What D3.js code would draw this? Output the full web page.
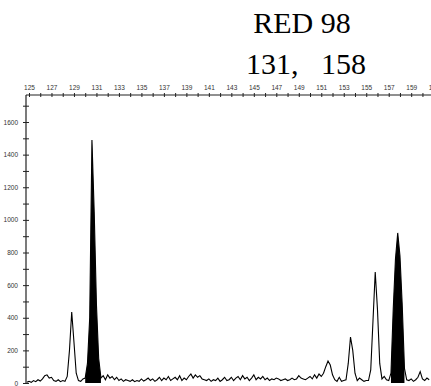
<!DOCTYPE html>
<html>
<head>
<meta charset="utf-8">
<script src="https://cdn.jsdelivr.net/npm/d3@7"></script>
<style>
  html, body { margin: 0; padding: 0; background: #fff; }
  svg { display: block; }
</style>
</head>
<body>
<div id="chart"></div>
<script>
// title lines
const titleLines = ['RED 98', '131,   158'];
const titleX = [302, 306];

// fragment sizes (bp) are sampled every 0.2 from 124.8
const sizeStart = 124.8;
const sizeStep = 0.2;

// signal (RFU), one row = 2 bp
const rfu = [
  5, 10, 4, 15, 8, 20, 12, 25, 45, 50,
  30, 35, 15, 10, 20, 8, 15, 10, 40, 200,
  435, 250, 60, 15, 10, 25, 30, 120, 400, 1490,
  1050, 480, 150, 30, 45, 20, 50, 30, 40, 20,
  35, 15, 25, 10, 20, 15, 10, 20, 8, 15,
  10, 25, 12, 20, 30, 15, 25, 10, 20, 35,
  15, 30, 20, 40, 15, 25, 35, 20, 45, 15,
  30, 20, 40, 55, 30, 50, 35, 45, 25, 20,
  15, 25, 10, 20, 15, 30, 10, 20, 35, 15,
  20, 35, 15, 30, 40, 20, 45, 25, 35, 15,
  30, 50, 20, 35, 25, 40, 20, 30, 15, 25,
  20, 30, 25, 15, 20, 25, 15, 20, 30, 20,
  25, 45, 30, 25, 20, 30, 40, 25, 50, 30,
  55, 40, 60, 100, 135, 110, 50, 20, 10, 35,
  10, 15, 20, 120, 282, 200, 60, 15, 30, 20,
  10, 15, 15, 80, 380, 681, 450, 120, 25, 40,
  20, 15, 60, 450, 760, 920, 780, 480, 90, 20,
  15, 25, 10, 20, 35, 70, 25, 15, 30, 20
];

// called allele peaks (filled black)
const alleleFrom = [129.9, 157.1];
const alleleTo = [131.5, 158.5];

// axis ticks
const xTicks = d3.range(125, 162, 1);
const yTicks = d3.range(0, 1800, 100);
const yLabels = [0, 200, 400, 600, 800, 1000, 1200, 1400, 1600];

const W = 431, H = 386;
const svg = d3.select('#chart').append('svg').attr('width', W).attr('height', H);

const x = d3.scaleLinear().domain([125, 159]).range([29, 411.2]);
const y = d3.scaleLinear().domain([0, 1600]).range([383, 122]);
const axisLeftX = 26, axisTopY = 95;

const data = rfu.map((v, i) => ({ size: sizeStart + i * sizeStep, v }));

// title
svg.selectAll('.title')
  .data(titleLines)
  .enter()
  .append('text')
  .attr('class', 'title')
  .attr('x', (d, i) => titleX[i])
  .attr('y', (d, i) => 33 + i * 41)
  .attr('text-anchor', 'middle')
  .style('font-family', '"Liberation Serif", "Times New Roman", serif')
  .style('font-size', '30px')
  .style('white-space', 'pre')
  .attr('xml:space', 'preserve')
  .text(d => d);

// filled allele peaks
const area = d3.area().x(d => x(d.size)).y0(y(0)).y1(d => y(d.v));
alleleFrom.forEach((from, k) => {
  const seg = data.filter(d => d.size >= from && d.size <= alleleTo[k]);
  svg.append('path').attr('d', area(seg)).attr('fill', '#000');
});

// trace
const line = d3.line().x(d => x(d.size)).y(d => y(d.v));
svg.append('path')
  .attr('d', line(data))
  .attr('fill', 'none')
  .attr('stroke', '#000')
  .attr('stroke-width', 1.1);

// top axis
const topAxis = svg.append('g')
  .attr('transform', `translate(0,${axisTopY})`)
  .call(d3.axisTop(x).tickValues(xTicks).tickSize(2).tickPadding(3)
    .tickFormat(d => (d % 2 === 1 ? d : '')));
topAxis.select('.domain').remove();
topAxis.selectAll('.tick line').attr('y1', 2).attr('y2', -2).attr('stroke', '#222');
topAxis.selectAll('.tick text')
  .style('font-family', '"Liberation Sans", Arial, sans-serif')
  .style('font-size', '6.5px')
  .attr('fill', '#333');
svg.append('line')
  .attr('x1', axisLeftX).attr('x2', W)
  .attr('y1', axisTopY).attr('y2', axisTopY)
  .attr('stroke', '#222').attr('stroke-width', 1.2);

// left axis
const leftAxis = svg.append('g')
  .attr('transform', `translate(${axisLeftX},0)`)
  .call(d3.axisLeft(y).tickValues(yTicks).tickSize(3).tickPadding(5)
    .tickFormat(d => (yLabels.includes(d) ? d : '')));
leftAxis.select('.domain').remove();
leftAxis.selectAll('.tick line').attr('x1', 3).attr('x2', -3).attr('stroke', '#222');
leftAxis.selectAll('.tick text')
  .style('font-family', '"Liberation Sans", Arial, sans-serif')
  .style('font-size', '6.5px')
  .attr('fill', '#333');
svg.append('line')
  .attr('x1', axisLeftX).attr('x2', axisLeftX)
  .attr('y1', axisTopY).attr('y2', y(0))
  .attr('stroke', '#222').attr('stroke-width', 1.2);
</script>
</body>
</html>
